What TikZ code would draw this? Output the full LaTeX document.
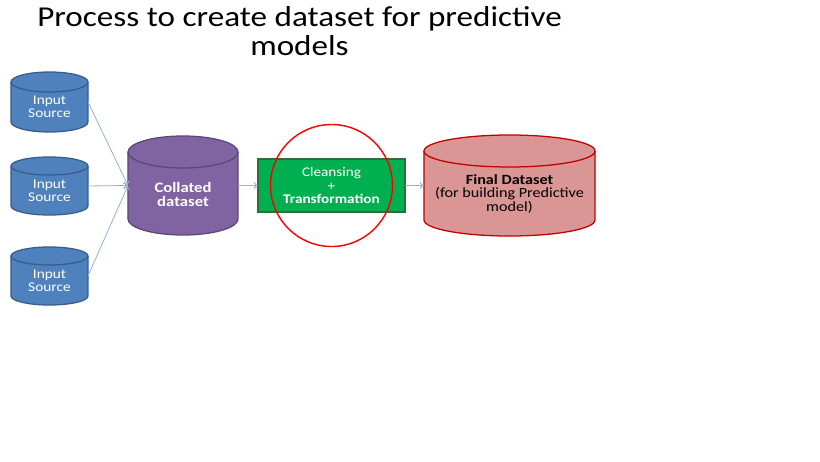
\documentclass[tikz,border=0pt]{standalone}
\usepackage{fontspec}
\setmainfont{Carlito}[FakeStretch=1.15]
\usetikzlibrary{arrows.meta}
\definecolor{srcblue}{HTML}{4F81BD}
\definecolor{srcline}{HTML}{385D8A}
\definecolor{collpurple}{HTML}{8064A2}
\definecolor{collline}{HTML}{5C4776}
\definecolor{cleangreen}{HTML}{00B050}
\definecolor{cleanline}{HTML}{2F6E33}
\definecolor{finalpink}{HTML}{D99694}
\definecolor{finalline}{HTML}{C00000}
\definecolor{flowblue}{HTML}{95B3D7}
% cylinder round the body node #1: x radius #2, y radius #3, colours #4
\newcommand{\barrel}[4]{%
  \draw[#4, line width=0.9pt] (#1.north west) -- (#1.south west) arc (180:360:#2 and #3) -- (#1.north east) arc (0:180:#2 and #3) -- cycle;
  \draw[#4, line width=0.9pt] (#1.north west) arc (180:360:#2 and #3);
}
\tikzset{
  body/.style={inner sep=0pt, outer sep=0pt},
  flow/.style={draw=flowblue, line width=0.6pt, -{To[length=3pt,width=5pt]}}
}

\begin{document}
\begin{tikzpicture}[x=0.025cm, y=0.025cm]
			%%%%% START %%%%%
			\useasboundingbox (0, 0) rectangle (820, -461);
			
			\node[align=center, font=\fontsize{20.5}{21}\selectfont] (title) at (299.5, -31)
			  {Process to create dataset for predictive\\models};
			
			% input sources
			\node[body, minimum width=1.925cm, minimum height=1cm] (in1) at (49.5, -102) {};
			\barrel{in1}{38.5}{10}{draw=srcline, fill=srcblue}
			\node[white, align=center, font=\fontsize{9.5}{9.3}\selectfont] (in1txt) at (49.5, -106.5) {Input\\Source};
			
			\node[body, minimum width=1.925cm, minimum height=1cm] (in2) at (49.5, -186) {};
			\barrel{in2}{38.5}{9}{draw=srcline, fill=srcblue}
			\node[white, align=center, font=\fontsize{9.5}{9.3}\selectfont] (in2txt) at (49.5, -190.5) {Input\\Source};
			
			\node[body, minimum width=1.925cm, minimum height=1cm] (in3) at (49.5, -276) {};
			\barrel{in3}{38.5}{9}{draw=srcline, fill=srcblue}
			\node[white, align=center, font=\fontsize{9.5}{9.3}\selectfont] (in3txt) at (49.5, -280.5) {Input\\Source};
			
			% collated
			\node[body, minimum width=2.75cm, minimum height=1.675cm] (coll) at (183, -185.5) {};
			\barrel{coll}{55}{16}{draw=collline, fill=collpurple}
			\node[white, align=center, font=\bfseries\fontsize{10.3}{10.6}\selectfont] (colltxt) at (183, -194.5) {Collated\\dataset};
			
			% cleansing
			\node[draw=cleanline, fill=cleangreen, line width=0.9pt, text=white, minimum width=3.675cm, minimum height=1.325cm,
			  align=center, inner sep=0pt, outer sep=0pt, font=\fontsize{9.4}{9.3}\selectfont] (clean) at (331.5, -185.5)
			  {Cleansing\\+\\\textbf{Transformation}};
			
			% final
			\node[body, minimum width=4.275cm, minimum height=1.725cm] (final) at (509.5, -185.5) {};
			\barrel{final}{85.5}{16}{draw=finalline, fill=finalpink}
			\node[align=center, font=\fontsize{10}{9.4}\selectfont] (finaltxt) at (509.5, -194)
			  {\textbf{Final Dataset}\\(for building Predictive\\model)};
			
			\draw[red, line width=1pt] (clean.center) circle (61);
			
			\draw[flow] (in1.east) -- (coll.west);
			\draw[flow] (in2.east) -- (coll.west);
			\draw[flow] (in3.east) -- (coll.west);
			\draw[flow] (coll.east) -- (clean.west);
			\draw[flow] (clean.east) -- (final.west);
			
			%%%%% END %%%%%
\end{tikzpicture}
\end{document}
